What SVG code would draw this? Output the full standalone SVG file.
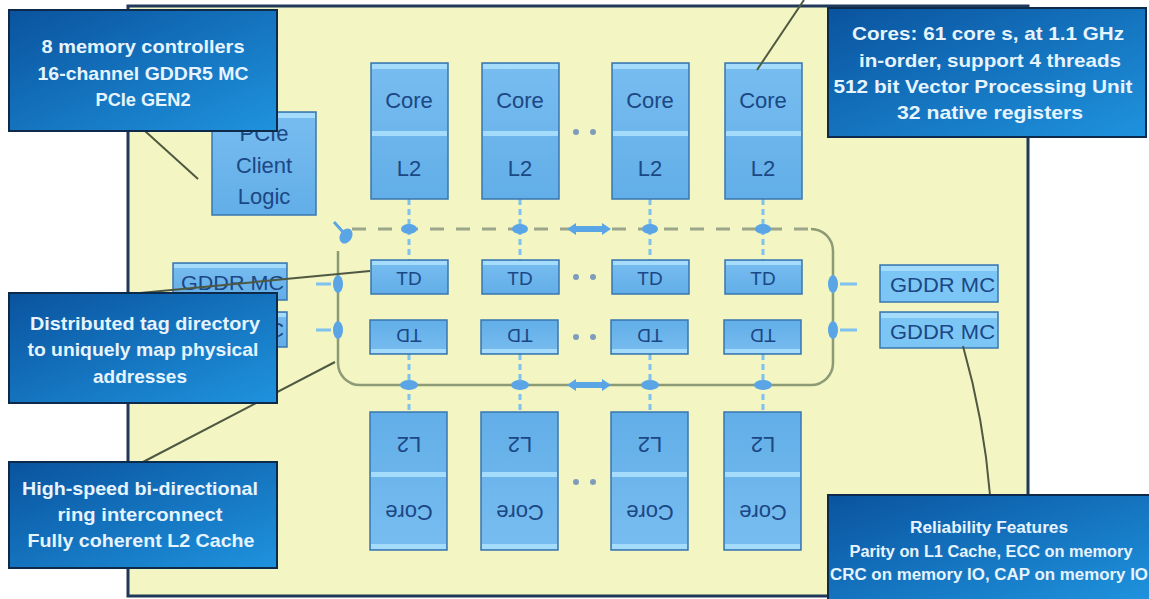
<svg xmlns="http://www.w3.org/2000/svg" width="1149" height="599" viewBox="0 0 1149 599">
<defs>
<linearGradient id="cg" x1="0" y1="0" x2="1" y2="1">
<stop offset="0" stop-color="#0a539e"/>
<stop offset="1" stop-color="#1f93de"/>
</linearGradient>
<linearGradient id="bg" x1="0" y1="0" x2="0" y2="1">
<stop offset="0" stop-color="#78bdf0"/>
<stop offset="1" stop-color="#62aee8"/>
</linearGradient>
<clipPath id="gclip"><rect x="277" y="300" width="20" height="60"/></clipPath>
</defs>
<style>
.chip{fill:#f3f5c2;stroke:#20395a;stroke-width:3}
.box{fill:url(#bg);stroke:#3a76b0;stroke-width:1.5}
.hl{fill:#a6dcfb}
.bt{font-family:"Liberation Sans",Arial,sans-serif;font-size:22px;fill:#1b4785;text-anchor:middle}
.td{font-family:"Liberation Sans",Arial,sans-serif;font-size:19px;fill:#1b4785;text-anchor:middle}
.gm{font-family:"Liberation Sans",Arial,sans-serif;font-size:20px;fill:#1b4785}
.co{fill:url(#cg);stroke:#0d2a4a;stroke-width:2}
.ct{font-family:"Liberation Sans",Arial,sans-serif;font-weight:bold;font-size:19px;fill:#e6f4ff;text-anchor:middle}
.cs{font-family:"Liberation Sans",Arial,sans-serif;font-weight:bold;font-size:16px;fill:#e6f4ff;text-anchor:middle}
.lead{stroke:#4f5840;stroke-width:2;fill:none}
.vc{stroke:#7ec2f0;stroke-width:3;stroke-dasharray:6 4;fill:none}
.ring{stroke:#8d9a76;stroke-width:2.5;fill:none}
.ringd{stroke:#9aa58a;stroke-width:3;fill:none;stroke-dasharray:14 12}
.nd{fill:#5aa5e6}
.dot{fill:#7f9cba}
</style>

<rect id="chip" class="chip" x="128" y="6" width="900" height="590"/>

<g id="connectors">
<path class="ring" d="M811,229 A22,22 0 0 1 833,251 V363 A22,22 0 0 1 811,385 H360 A22,22 0 0 1 338,363 V251"/>
<line class="ringd" x1="352" y1="229" x2="811" y2="229"/>
<path class="vc" d="M409,199 V260 M520,199 V260 M650,199 V260 M763,199 V260 M409,354 V412 M520,354 V412 M650,354 V412 M763,354 V412"/>
<path class="vc" style="stroke-dasharray:none" d="M316,284 H331 M316,330 H331 M840,284 H857 M840,330 H857"/>
<g class="nd">
<ellipse cx="409" cy="229" rx="8" ry="5"/>
<ellipse cx="520" cy="229" rx="8" ry="5"/>
<ellipse cx="650" cy="229" rx="8" ry="5"/>
<ellipse cx="763" cy="229" rx="8" ry="5"/>
<ellipse cx="409" cy="385" rx="9" ry="5"/>
<ellipse cx="520" cy="385" rx="9" ry="5"/>
<ellipse cx="650" cy="385" rx="9" ry="5"/>
<ellipse cx="763" cy="385" rx="9" ry="5"/>
<ellipse cx="338" cy="284" rx="5" ry="9"/>
<ellipse cx="338" cy="330" rx="5" ry="9"/>
<ellipse cx="833" cy="284" rx="5" ry="9"/>
<ellipse cx="833" cy="330" rx="5" ry="9"/>
<ellipse cx="346" cy="236" rx="6" ry="8" transform="rotate(30 346 236)"/>
<path d="M567,229 l9,-6 v3 h26 v-3 l9,6 l-9,6 v-3 h-26 v3 z"/>
<path d="M567,385 l9,-6 v3 h26 v-3 l9,6 l-9,6 v-3 h-26 v3 z"/>
</g>
<path d="M343,232 L334,222" stroke="#5aa5e6" stroke-width="3"/>
</g>

<g id="dots" class="dot">
<circle cx="576" cy="132" r="3"/><circle cx="593" cy="132" r="3"/>
<circle cx="576" cy="277" r="3"/><circle cx="593" cy="277" r="3"/>
<circle cx="576" cy="337" r="3"/><circle cx="593" cy="337" r="3"/>
<circle cx="576" cy="482" r="3"/><circle cx="593" cy="482" r="3"/>
</g>

<g id="pcie">
<rect class="box" x="212" y="112" width="104" height="103"/>
<rect class="hl" x="213" y="113" width="102" height="5"/>
<text class="bt" x="264" y="141">PCIe</text>
<text class="bt" x="264" y="173">Client</text>
<text class="bt" x="264" y="204">Logic</text>
</g>

<g id="core-top-1">
<rect class="box" x="371" y="63" width="77" height="136"/>
<rect class="hl" x="372" y="64" width="75" height="5"/>
<rect class="hl" x="372" y="131" width="75" height="5"/>
<text class="bt" x="409" y="108">Core</text><text class="bt" x="409" y="176">L2</text>
</g>
<g id="core-top-2">
<rect class="box" x="482" y="63" width="77" height="136"/>
<rect class="hl" x="483" y="64" width="75" height="5"/>
<rect class="hl" x="483" y="131" width="75" height="5"/>
<text class="bt" x="520" y="108">Core</text><text class="bt" x="520" y="176">L2</text>
</g>
<g id="core-top-3">
<rect class="box" x="612" y="63" width="77" height="136"/>
<rect class="hl" x="613" y="64" width="75" height="5"/>
<rect class="hl" x="613" y="131" width="75" height="5"/>
<text class="bt" x="650" y="108">Core</text><text class="bt" x="650" y="176">L2</text>
</g>
<g id="core-top-4">
<rect class="box" x="725" y="63" width="77" height="136"/>
<rect class="hl" x="726" y="64" width="75" height="5"/>
<rect class="hl" x="726" y="131" width="75" height="5"/>
<text class="bt" x="763" y="108">Core</text><text class="bt" x="763" y="176">L2</text>
</g>

<g id="td-top-1"><rect class="box" x="371" y="260" width="77" height="34"/><rect class="hl" x="372" y="261" width="75" height="4"/><text class="td" x="409" y="285">TD</text></g>
<g id="td-top-2"><rect class="box" x="482" y="260" width="77" height="34"/><rect class="hl" x="483" y="261" width="75" height="4"/><text class="td" x="520" y="285">TD</text></g>
<g id="td-top-3"><rect class="box" x="612" y="260" width="77" height="34"/><rect class="hl" x="613" y="261" width="75" height="4"/><text class="td" x="650" y="285">TD</text></g>
<g id="td-top-4"><rect class="box" x="725" y="260" width="77" height="34"/><rect class="hl" x="726" y="261" width="75" height="4"/><text class="td" x="763" y="285">TD</text></g>

<g id="td-bot-1" transform="rotate(180 409 337)"><rect class="box" x="371" y="320" width="77" height="34"/><rect class="hl" x="372" y="321" width="75" height="4"/><text class="td" x="409" y="345">TD</text></g>
<g id="td-bot-2" transform="rotate(180 520 337)"><rect class="box" x="482" y="320" width="77" height="34"/><rect class="hl" x="483" y="321" width="75" height="4"/><text class="td" x="520" y="345">TD</text></g>
<g id="td-bot-3" transform="rotate(180 650 337)"><rect class="box" x="612" y="320" width="77" height="34"/><rect class="hl" x="613" y="321" width="75" height="4"/><text class="td" x="650" y="345">TD</text></g>
<g id="td-bot-4" transform="rotate(180 763 337)"><rect class="box" x="725" y="320" width="77" height="34"/><rect class="hl" x="726" y="321" width="75" height="4"/><text class="td" x="763" y="345">TD</text></g>

<g id="core-bot-1" transform="rotate(180 409 481)">
<rect class="box" x="371" y="412" width="77" height="138"/>
<rect class="hl" x="372" y="413" width="75" height="5"/>
<rect class="hl" x="372" y="485" width="75" height="5"/>
<text class="bt" x="409" y="457">Core</text><text class="bt" x="409" y="525">L2</text>
</g>
<g id="core-bot-2" transform="rotate(180 520 481)">
<rect class="box" x="482" y="412" width="77" height="138"/>
<rect class="hl" x="483" y="413" width="75" height="5"/>
<rect class="hl" x="483" y="485" width="75" height="5"/>
<text class="bt" x="520" y="457">Core</text><text class="bt" x="520" y="525">L2</text>
</g>
<g id="core-bot-3" transform="rotate(180 650 481)">
<rect class="box" x="612" y="412" width="77" height="138"/>
<rect class="hl" x="613" y="413" width="75" height="5"/>
<rect class="hl" x="613" y="485" width="75" height="5"/>
<text class="bt" x="650" y="457">Core</text><text class="bt" x="650" y="525">L2</text>
</g>
<g id="core-bot-4" transform="rotate(180 763 481)">
<rect class="box" x="725" y="412" width="77" height="138"/>
<rect class="hl" x="726" y="413" width="75" height="5"/>
<rect class="hl" x="726" y="485" width="75" height="5"/>
<text class="bt" x="763" y="457">Core</text><text class="bt" x="763" y="525">L2</text>
</g>

<g id="gddr-left-1"><rect class="box" x="173" y="263" width="114" height="37"/><rect class="hl" x="174" y="264" width="112" height="4"/><text class="gm" x="181" y="290" textLength="103" lengthAdjust="spacingAndGlyphs">GDDR MC</text></g>
<g id="gddr-left-2" clip-path="url(#gclip)"><rect class="box" x="173" y="312" width="114" height="35"/><rect class="hl" x="174" y="313" width="112" height="4"/><text class="gm" x="181" y="337" textLength="103" lengthAdjust="spacingAndGlyphs">GDDR MC</text></g>
<g id="gddr-right-1"><rect class="box" x="880" y="265" width="118" height="37" style="fill:#7cc6f6"/><rect class="hl" x="881" y="266" width="116" height="5"/><text class="gm" x="890" y="292" textLength="105" lengthAdjust="spacingAndGlyphs">GDDR MC</text></g>
<g id="gddr-right-2"><rect class="box" x="880" y="312" width="118" height="36" style="fill:#7cc6f6"/><rect class="hl" x="881" y="313" width="116" height="5"/><text class="gm" x="890" y="339" textLength="105" lengthAdjust="spacingAndGlyphs">GDDR MC</text></g>

<g id="leaders">
<line class="lead" x1="145" y1="131" x2="198" y2="179"/>
<line class="lead" x1="370" y1="271" x2="140" y2="293"/>
<line class="lead" x1="335" y1="362" x2="143" y2="462"/>
<line class="lead" x1="757" y1="70" x2="804" y2="0"/>
<path class="lead" d="M963,346 Q984,420 990,495"/>
</g>

<g id="callout-mc">
<rect class="co" x="9" y="10" width="268" height="121"/>
<text class="ct" x="143" y="53" textLength="203" lengthAdjust="spacingAndGlyphs">8 memory controllers</text>
<text class="ct" x="143" y="80" textLength="211" lengthAdjust="spacingAndGlyphs">16-channel GDDR5 MC</text>
<text class="ct" x="143" y="106" textLength="95" lengthAdjust="spacingAndGlyphs">PCIe GEN2</text>
</g>
<g id="callout-cores">
<rect class="co" x="828" y="8" width="318" height="129"/>
<text class="ct" x="988" y="40" textLength="272" lengthAdjust="spacingAndGlyphs">Cores: 61 core s,  at 1.1 GHz</text>
<text class="ct" x="990" y="67" textLength="262" lengthAdjust="spacingAndGlyphs">in-order,  support 4 threads</text>
<text class="ct" x="983" y="93" textLength="299" lengthAdjust="spacingAndGlyphs">512 bit Vector Processing Unit</text>
<text class="ct" x="990" y="119" textLength="186" lengthAdjust="spacingAndGlyphs">32  native registers</text>
</g>
<g id="callout-td">
<rect class="co" x="9" y="293" width="268" height="110"/>
<text class="ct" x="145" y="330" textLength="230" lengthAdjust="spacingAndGlyphs">Distributed tag directory</text>
<text class="ct" x="143" y="356" textLength="231" lengthAdjust="spacingAndGlyphs">to uniquely map physical</text>
<text class="ct" x="140" y="383" textLength="94" lengthAdjust="spacingAndGlyphs">addresses</text>
</g>
<g id="callout-ring">
<rect class="co" x="9" y="462" width="268" height="106"/>
<text class="ct" x="140" y="495" textLength="236" lengthAdjust="spacingAndGlyphs">High-speed  bi-directional</text>
<text class="ct" x="140" y="521" textLength="165" lengthAdjust="spacingAndGlyphs">ring interconnect</text>
<text class="ct" x="141" y="547" textLength="227" lengthAdjust="spacingAndGlyphs">Fully coherent L2 Cache</text>
</g>
<g id="callout-rel">
<rect class="co" x="828" y="495" width="322" height="106"/>
<text class="cs" x="989" y="533" textLength="158" lengthAdjust="spacingAndGlyphs">Reliability Features</text>
<text class="cs" x="991" y="557" textLength="283" lengthAdjust="spacingAndGlyphs">Parity on L1 Cache, ECC on memory</text>
<text class="cs" x="989" y="580" textLength="318" lengthAdjust="spacingAndGlyphs">CRC on memory IO,  CAP on memory  IO</text>
</g>
</svg>
